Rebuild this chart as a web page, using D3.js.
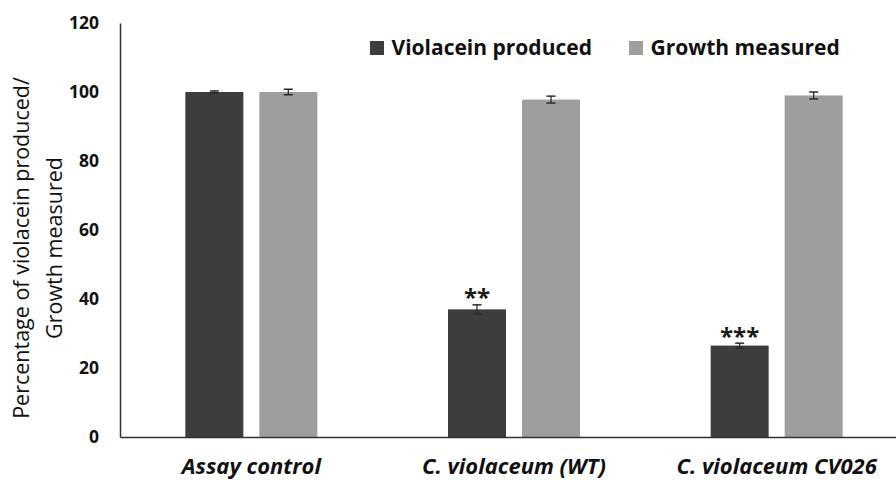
<!DOCTYPE html>
<html>
<head>
<meta charset="utf-8">
<script src="https://cdn.jsdelivr.net/npm/d3@7"></script>
<style>
  html, body { margin: 0; padding: 0; background: #fff; }
  svg { display: block; }
  text { font-family: "Open Sans", "Liberation Sans", sans-serif; }
</style>
</head>
<body>
<svg id="chart" width="896" height="482"></svg>
<script>
(function () {
// ---- data ----
const categories = ["Assay control", "C. violaceum (WT)", "C. violaceum CV026"];
const series = ["Violacein produced", "Growth measured"];
const violacein = [100, 37, 26.5];
const violaceinErr = [0.3, 1.3, 0.7];
const growth = [100, 97.8, 99];
const growthErr = [0.8, 1.0, 1.0];
const significance = ["", "**", "***"];
const yTicks = [0, 20, 40, 60, 80, 100, 120];
const yTitle = ["Percentage of violacein produced/", "Growth measured"];

const colors = ["#3d3d3d", "#9e9e9e"];

const svg = d3.select("#chart");
const mLeft = 120, mRight = 908, mTop = 23, mBottom = 437;

const y = d3.scaleLinear().domain([0, 120]).range([mBottom, mTop]);
const x0 = d3.scaleBand().domain(categories).range([mLeft, mRight]);
const bw = x0.bandwidth();
const x1 = d3.scaleBand().domain(series).range([(bw - 132) / 2, (bw + 132) / 2]).paddingInner(16 / 74);

const rows = categories.map((c, i) => ({
  cat: c,
  vals: [
    { s: series[0], v: violacein[i], e: violaceinErr[i] },
    { s: series[1], v: growth[i], e: growthErr[i] }
  ],
  sig: significance[i]
}));

// bars
const g = svg.append("g");
const grp = g.selectAll("g.grp").data(rows).join("g")
  .attr("transform", d => `translate(${x0(d.cat)},0)`);

grp.selectAll("rect").data(d => d.vals).join("rect")
  .attr("x", d => x1(d.s))
  .attr("y", d => y(d.v))
  .attr("width", x1.bandwidth())
  .attr("height", d => y(0) - y(d.v))
  .attr("fill", (d, i) => colors[i]);

// error bars
const eb = grp.selectAll("g.err").data(d => d.vals).join("g");
eb.append("line")
  .attr("x1", d => x1(d.s) + x1.bandwidth() / 2)
  .attr("x2", d => x1(d.s) + x1.bandwidth() / 2)
  .attr("y1", d => y(d.v - d.e))
  .attr("y2", d => y(d.v + d.e))
  .attr("stroke", "#2a2a2a").attr("stroke-width", 1.3);
eb.selectAll("line.cap").data(d => [[d, d.v + d.e], [d, d.v - d.e]]).join("line")
  .attr("class", "cap")
  .attr("x1", d => x1(d[0].s) + x1.bandwidth() / 2 - 4.5)
  .attr("x2", d => x1(d[0].s) + x1.bandwidth() / 2 + 4.5)
  .attr("y1", d => y(d[1]))
  .attr("y2", d => y(d[1]))
  .attr("stroke", "#2a2a2a").attr("stroke-width", 1.5);

// significance
grp.append("text")
  .attr("x", x1(series[0]) + x1.bandwidth() / 2)
  .attr("y", (d, i) => y(violacein[i] + violaceinErr[i]) + 1.5)
  .attr("text-anchor", "middle")
  .attr("font-size", 24).attr("font-weight", 700)
  .attr("fill", "#1a1a1a")
  .text(d => d.sig);

// axes
const yAxis = d3.axisLeft(y).tickValues(yTicks).tickSize(0).tickPadding(21);
const ya = svg.append("g").attr("transform", `translate(${mLeft},0)`).call(yAxis);
ya.select(".domain").attr("stroke", "#333").attr("stroke-width", 1.5);
ya.selectAll("text").attr("font-size", 17.5).attr("font-weight", 700).attr("fill", "#111")
  .attr("font-family", "'Open Sans', sans-serif");

const xAxis = d3.axisBottom(x0).tickSize(0).tickPadding(21);
const xa = svg.append("g").attr("transform", `translate(0,${mBottom})`).call(xAxis);
xa.select(".domain").attr("stroke", "#333").attr("stroke-width", 1.5);
xa.selectAll("text").attr("font-size", 22).attr("font-weight", 700).attr("font-style", "italic")
  .attr("fill", "#111").attr("font-family", "'Open Sans', sans-serif");

// y title
const yt = svg.append("text")
  .attr("transform", "translate(0,248) rotate(-90)")
  .attr("text-anchor", "middle")
  .attr("font-size", 21.5).attr("font-weight", 500).attr("fill", "#111");
yt.selectAll("tspan").data(yTitle).join("tspan")
  .attr("x", 0)
  .attr("y", (d, i) => 29 + i * 33)
  .text(d => d);

// legend
const legX = [370, 629];
const leg = svg.append("g").selectAll("g").data(series).join("g")
  .attr("transform", (d, i) => `translate(${legX[i]},41)`);
leg.append("rect").attr("width", 14).attr("height", 14).attr("fill", (d, i) => colors[i]);
leg.append("text").attr("x", 21.5).attr("y", 14)
  .attr("font-size", 21).attr("font-weight", 700).attr("fill", "#111")
  .text(d => d);
})();
</script>
</body>
</html>
